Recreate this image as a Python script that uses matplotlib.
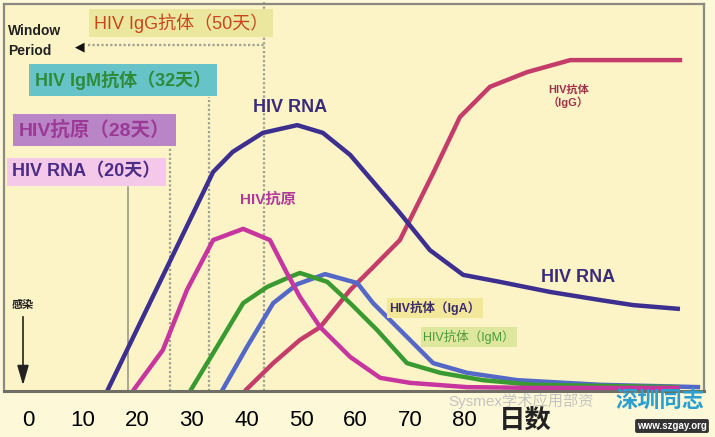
import matplotlib
matplotlib.use("Agg")
import matplotlib.pyplot as plt

plt.rcParams["font.family"] = ["Liberation Sans", "Noto Sans CJK SC", "DejaVu Sans"]

# days since infection / relative level (0-100)
rna_days = [14.5, 33.9, 37.5, 43.0, 49.3, 54.0, 59.0, 68.1, 73.6, 79.7, 86.4, 95.6, 104.8, 110.8, 119.4]
rna_vals = [0, 56.6, 61.8, 66.7, 68.7, 66.7, 61.0, 46.0, 36.4, 30.0, 28.2, 25.6, 23.5, 22.2, 21.2]

antigen_days = [19.2, 24.7, 29.1, 33.9, 39.4, 44.3, 47.4, 49.8, 53.5, 59.0, 64.5, 70.0, 80.4, 92.5, 119.4]
antigen_vals = [0, 10.6, 26.1, 39.0, 41.9, 39.0, 30.5, 24.3, 16.5, 8.8, 3.4, 2.1, 1.0, 0.8, 0.8]

igm_days = [29.7, 34.6, 39.4, 43.8, 48.0, 49.8, 54.8, 59.0, 63.9, 69.4, 75.5, 83.3, 92.5, 119.4]
igm_vals = [0, 11.4, 22.7, 26.9, 29.5, 30.5, 28.2, 22.7, 15.8, 7.2, 4.7, 2.8, 1.6, 1.0]

iga_days = [35.5, 40.1, 44.9, 49.3, 54.4, 60.3, 63.2, 68.1, 74.2, 80.4, 89.6, 104.8, 123.1]
iga_vals = [0, 11.4, 22.7, 27.6, 30.2, 27.9, 22.7, 15.8, 7.2, 4.7, 2.8, 1.6, 1.0]

igg_days = [39.7, 44.9, 49.8, 53.5, 59.0, 63.2, 68.1, 74.2, 79.1, 84.6, 91.4, 99.3, 119.8]
igg_vals = [0, 7.2, 13.2, 16.5, 26.1, 32.0, 39.0, 56.3, 70.8, 78.6, 82.4, 85.5, 85.5]

tick_days = [0, 10, 20, 30, 40, 50, 60, 70, 80]
window_days = {"rna": 18.3, "antigen": 26.0, "igm": 33.1, "igg": 43.2}

W, H = 715, 437


def fp(x, y):
    """pixel position -> figure fraction"""
    return x / W, 1 - y / H


fig = plt.figure(figsize=(W / 100, H / 100), dpi=100, facecolor="#fdf8d8")
ax = fig.add_axes([4 / W, (H - 391) / H, 700 / W, 387 / H])
ax.set_facecolor("#fcf4c6")
ax.set_xlim(-4.4, 123.8)
ax.set_ylim(0, 100)
for s in ax.spines.values():
    s.set_color("#8a8a80")
    s.set_linewidth(1.6)
ax.spines["bottom"].set_color("#6f6f66")
ax.spines["bottom"].set_linewidth(2.2)

ax.set_yticks([])
ax.set_xticks(tick_days)
ax.set_xticklabels([str(d) for d in tick_days], fontsize=16)
ax.tick_params(axis="x", length=0, pad=14)

# window period markers
ax.axvline(window_days["rna"], ymax=(391 - 187) / 387, color="#9a9a88", lw=1.2)
ax.axvline(window_days["antigen"], ymax=(391 - 147) / 387, color="#a0a090", lw=1.6, ls=(0, (1, 1)))
ax.axvline(window_days["igm"], ymax=(391 - 97) / 387, color="#a0a090", lw=1.6, ls=(0, (1, 1)))
ax.axvline(window_days["igg"], ymax=1.02, color="#a0a090", lw=1.6, ls=(0, (1, 1)), clip_on=False)
ax.plot([-4.4 + (88 - 4) / 5.46, window_days["igg"]], [(391 - 45) / 3.87] * 2,
        color="#a0a090", lw=1.6, ls=(0, (1, 1)))

lw = 3.2
ax.plot(igg_days, igg_vals, color="#c43c6a", lw=lw, solid_capstyle="butt")
ax.plot(iga_days, iga_vals, color="#5468c8", lw=lw, solid_capstyle="butt")
ax.plot(igm_days, igm_vals, color="#3a9a32", lw=lw, solid_capstyle="butt")
ax.plot(antigen_days, antigen_vals, color="#c7359f", lw=lw, solid_capstyle="butt")
ax.plot(rna_days, rna_vals, color="#3d2f8f", lw=lw, solid_capstyle="butt")

# left boxes
fig.text(*fp(8, 41), "Window\nPeriod", fontsize=10, fontweight="bold", color="#222222",
         va="center", ha="left", linespacing=1.5)
fig.text(*fp(80, 47), "◀", fontsize=9, color="#111111", va="center", ha="center",
         family="DejaVu Sans")

fig.text(*fp(94, 23), "HIV IgG抗体（50天）", fontsize=13, color="#c8461e", va="center", ha="left",
         bbox=dict(boxstyle="square,pad=0.25", fc="#ebe79e", ec="none"))
fig.text(*fp(35, 80), "HIV IgM抗体（32天）", fontsize=13, fontweight="bold", color="#2e8b3a",
         va="center", ha="left", bbox=dict(boxstyle="square,pad=0.33", fc="#66c4c9", ec="none"))
fig.text(*fp(19, 130), "HIV抗原（28天）", fontsize=14, fontweight="bold", color="#9b3a96",
         va="center", ha="left", bbox=dict(boxstyle="square,pad=0.3", fc="#b985c6", ec="none"))
fig.text(*fp(12, 172), "HIV RNA（20天）", fontsize=13, fontweight="bold", color="#4b2c86",
         va="center", ha="left", bbox=dict(boxstyle="square,pad=0.3", fc="#f4c8e8", ec="none"))

# infection arrow
fig.text(*fp(23, 305), "感染", fontsize=8, fontweight="bold", color="#222222", ha="center", va="center")
ax.annotate("", xy=fp(23, 388), xytext=fp(23, 314), xycoords="figure fraction",
            textcoords="figure fraction",
            arrowprops=dict(arrowstyle="-|>,head_width=0.35,head_length=1.2", color="#222222", lw=1.2))

# curve labels
fig.text(*fp(290, 107), "HIV RNA", fontsize=13, fontweight="bold", color="#3a2b7a", ha="center", va="center")
fig.text(*fp(268, 200), "HIV抗原", fontsize=11, fontweight="bold", color="#b03a9c", ha="center", va="center")
fig.text(*fp(548, 96), "HIV抗体\n（IgG）", fontsize=8, fontweight="bold", color="#a0304a",
         ha="left", va="center", linespacing=1.2)
fig.text(*fp(578, 277), "HIV RNA", fontsize=13, fontweight="bold", color="#3a2b7a", ha="center", va="center")
fig.text(*fp(389, 308), "HIV抗体（IgA）", fontsize=9, fontweight="bold", color="#3a2b6a",
         ha="left", va="center", bbox=dict(boxstyle="square,pad=0.2", fc="#f3e899", ec="none"))
fig.text(*fp(423, 337), "HIV抗体（IgM）", fontsize=9, color="#4a9a3a",
         ha="left", va="center", bbox=dict(boxstyle="square,pad=0.2", fc="#dde79e", ec="none"))

fig.text(*fp(525, 421), "日数", fontsize=19, fontweight="bold", color="#222222", ha="center", va="center")

# watermark
fig.text(*fp(448, 401), "Sysmex学术应用部资", fontsize=11, color="#c4c4c0", ha="left", va="center")
fig.text(*fp(660, 401), "深圳同志", fontsize=16, fontweight="bold", color="#2a9fd0", ha="center", va="center")
fig.text(*fp(672, 426), "www.szgay.org", fontsize=7, fontweight="bold", color="white", ha="center",
         va="center", bbox=dict(boxstyle="round,pad=0.2", fc="#333333", ec="none"))

fig.savefig("out.png", dpi=100, facecolor=fig.get_facecolor())
